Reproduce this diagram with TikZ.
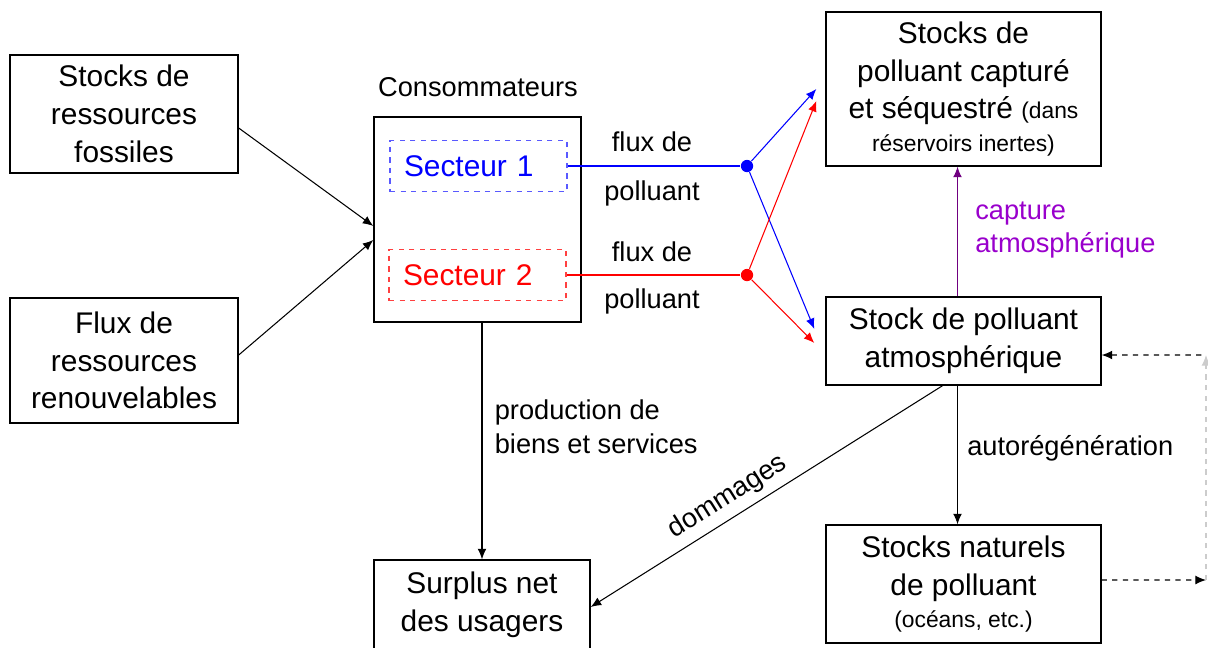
\documentclass[tikz,border=0pt]{standalone}
\usepackage{fontspec}
\setmainfont{Liberation Sans}
\usetikzlibrary{arrows.meta,positioning,calc}
\definecolor{capcol}{RGB}{153,0,204}
\definecolor{caparrow}{RGB}{112,0,128}
\newcommand{\boxfont}{\fontsize{17}{21.5}\selectfont}
\newcommand{\lblfont}{\fontsize{15.5}{19}\selectfont}
\newcommand{\tinyfont}{\fontsize{13}{15}\selectfont}
\tikzset{
block/.style = {draw, fill=white, rectangle, align=center, line width=0.8pt, inner sep=2pt, font=\boxfont},
sector/.style = {draw, dashed, rectangle, minimum width=3.54cm, minimum height=1.02cm, text width=2.98cm, inner xsep=0.28cm, align=left, font=\boxfont},
lbl/.style = {font=\lblfont, inner sep=1pt},
dot/.style = {circle, fill, inner sep=0pt, minimum size=7pt},
tmp/.style = {coordinate}
}
\begin{document}
\begin{tikzpicture}[x=0.02cm, y=-0.02cm, >={Latex[length=6pt,width=5pt]}, line width=0.6pt]
  \useasboundingbox (0,0) rectangle (1208,647);

  \node [block, minimum width=4.56cm, minimum height=2.36cm]   (fossil)  at (124,114)   {Stocks de\\ressources\\fossiles};
  \node [block, minimum width=4.56cm, minimum height=2.5cm]    (renew)   at (124,360.5) {Flux de\\ressources\\renouvelables};
  \node [block, minimum width=4.14cm, minimum height=4.1cm]    (cons)    at (477.5,219.5) {};
  \node [lbl]                                                  (conslbl) at (478,87)    {Consommateurs};
  \node [sector, draw=blue!65, text=blue]                      (sec1)    at (478.5,166) {Secteur 1};
  \node [sector, draw=red!75, text=red]                        (sec2)    at (477.5,275) {Secteur 2};
  \node [dot, blue]                                            (d1)      at (747,166)   {};
  \node [dot, red]                                             (d2)      at (747,275)   {};
  \node [block, minimum width=5.5cm, minimum height=3.08cm]    (capt)    at (963.5,89)  {Stocks de\\polluant capturé\\et séquestré {\tinyfont (dans}\\[-3pt]{\tinyfont réservoirs inertes)}};
  \node [block, minimum width=5.5cm, minimum height=1.76cm]    (atm)     at (963.5,341) {Stock de polluant\\atmosphérique};
  \node [block, minimum width=5.5cm, minimum height=2.36cm]    (natur)   at (963.5,584) {Stocks naturels\\de polluant\\[-3pt]{\tinyfont (océans, etc.)}};
  \node [block, minimum width=4.32cm, minimum height=1.8cm]    (surplus) at (482,605)   {Surplus net\\des usagers};
  \coordinate (r1) at (1206,355);
  \coordinate (r2) at (1206,580);

  % flux de polluant
  \node [lbl] (f1a) at (652,142) {flux de};
  \node [lbl] (f1b) at (652,193) {polluant};
  \node [lbl] (f2a) at (652,252) {flux de};
  \node [lbl] (f2b) at (652,301) {polluant};

  \draw [->] ([yshift=-0.28cm]fossil.east) -- ([yshift=-0.13cm]cons.west);
  \draw [->] ([yshift=0.11cm]renew.east) -- ([yshift=-0.41cm]cons.west);
  \draw [blue] (sec1.east) -- (d1);
  \draw [red] (sec2.east) -- (d2);
  \draw [->, blue] (d1) -- ([xshift=-0.18cm]capt.west);
  \draw [->, blue] (d1) -- ([xshift=-0.22cm, yshift=0.24cm]atm.west);
  \draw [->, red] (d2) -- ([xshift=-0.18cm, yshift=-0.24cm]capt.west);
  \draw [->, red] (d2) -- ([xshift=-0.22cm, yshift=-0.04cm]atm.west);
  \draw [->, caparrow] ([xshift=-0.12cm]atm.north) -- ([xshift=-0.12cm]capt.south);
  \node [lbl, text=capcol, align=left, anchor=west] (caplbl) at (973,230) {capture\\atmosphérique};
  \draw [->] ([xshift=-0.12cm]atm.south) -- ([xshift=-0.12cm]natur.north);
  \node [lbl, anchor=west] (autolbl) at (965,448) {autorégénération};
  \draw [->] (surplus.north |- cons.south) -- node [lbl, right=6pt, align=left, pos=0.44] {production de\\biens et services} (surplus.north);
  \draw [<-] ([yshift=-0.04cm]surplus.east) -- node [lbl, sloped, above=3pt, pos=0.42] {dommages} ([xshift=-0.42cm]atm.south);
  \draw [<-, dashed] ([yshift=-0.28cm]atm.east) -- (r1);
  \draw [->, dashed] ([yshift=0.08cm]natur.east) -- (r2);
  \draw [->, dashed, gray!40] (r2) -- (r1);
\end{tikzpicture}
\end{document}
